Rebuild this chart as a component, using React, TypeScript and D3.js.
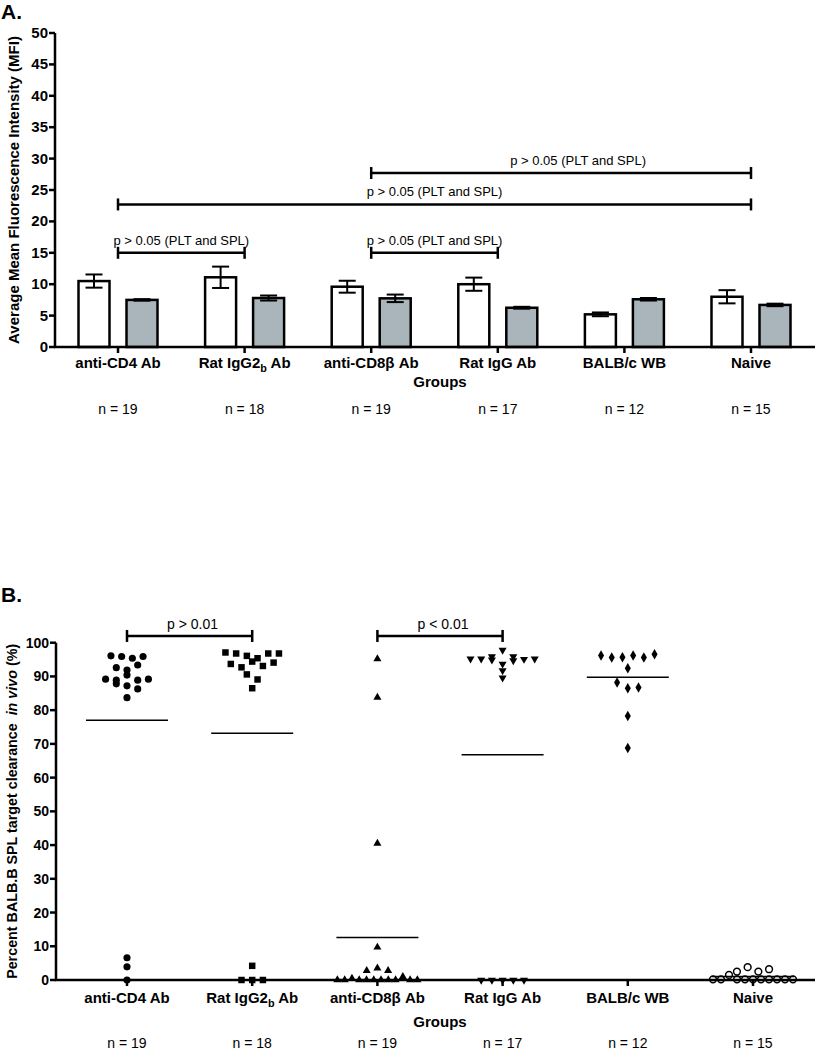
import React, { useRef, useEffect } from "react";
import * as d3 from "d3";

// groups shared by both panels
const groups = ["anti-CD4 Ab", "Rat IgG2b Ab", "anti-CD8b Ab", "Rat IgG Ab", "BALB/c WB", "Naive"];
const labelMain = ["anti-CD4 Ab", "Rat IgG2", "anti-CD8\u03b2 Ab", "Rat IgG Ab", "BALB/c WB", "Naive"];
const labelSub = ["", "b", "", "", "", ""];
const labelTail = ["", " Ab", "", "", "", ""];
const groupN = [19, 18, 19, 17, 12, 15];

// panel A: MFI means and error (PLT white, SPL grey)
const pltMean = [10.5, 11.1, 9.6, 10.0, 5.2, 8.0];
const pltErr = [1.05, 1.7, 0.95, 1.05, 0.3, 1.05];
const splMean = [7.5, 7.8, 7.75, 6.25, 7.6, 6.7];
const splErr = [0.12, 0.4, 0.6, 0.15, 0.2, 0.2];
const yTicksA = [0, 5, 10, 15, 20, 25, 30, 35, 40, 45, 50];

// significance brackets for A
const bracketFromA = [0, 2, 0, 2];
const bracketToA = [1, 3, 5, 5];
const bracketValA = [15, 15, 22.7, 27.7];
const bracketTextA = ["p > 0.05 (PLT and SPL)", "p > 0.05 (PLT and SPL)", "p > 0.05 (PLT and SPL)", "p > 0.05 (PLT and SPL)"];

// panel B: percent clearance per animal
const cd4Vals = [96.1, 95.9, 95.4, 95.9, 92.6, 91.9, 93.4, 89.2, 88.9, 90.4, 88.9, 89.2, 87.8, 87.2, 86.3, 83.7, 6.6, 3.9, 0];
const igg2bVals = [97.1, 96.8, 96.1, 93.7, 92.7, 94.4, 95.4, 93.1, 96.8, 94.1, 96.8, 90.6, 89.1, 86.5, 4.2, 0, 0, 0];
const cd8Vals = [95.2, 83.8, 40.5, 9.7, 2.8, 3.5, 2.8, 0, 0, 0.5, 0, 0, 0, 0, 0, 0, 1.0, 0, 0];
const iggVals = [95.2, 95.2, 94.9, 91.7, 95.9, 97.8, 93.7, 89.6, 95.9, 94.7, 95.1, 95.2, 0, 0, 0, 0, 0];
const balbVals = [96.2, 95.6, 88.2, 95.7, 92.4, 86.5, 78.3, 68.8, 96.2, 95.6, 86.7, 96.6];
const naiveVals = [0.2, 2.5, 0.2, 1.5, 0.2, 0.2, 3.8, 0.2, 0.2, 0.2, 0.2, 2.5, 0.2, 3.2, 0.2];
const yTicksB = [0, 10, 20, 30, 40, 50, 60, 70, 80, 90, 100];

const bracketFromB = [0, 2];
const bracketToB = [1, 3];
const bracketValB = [102, 102];
const bracketTextB = ["p > 0.01", "p < 0.01"];

const FONT = "'Liberation Sans', Arial, sans-serif";

// row based column-scatter layout (values close in y share a row, spread sideways)
function swarm(values, y, step, rowPx, maxHalf) {
  const idx = values.map((v, i) => i).sort((a, b) => values[b] - values[a]);
  const rows = [];
  let cur = null;
  idx.forEach((i) => {
    if (!cur || Math.abs(y(values[i]) - y(values[cur[0]])) > rowPx) {
      cur = [i];
      rows.push(cur);
    } else cur.push(i);
  });
  const off = new Array(values.length).fill(0);
  rows.forEach((r) => {
    r.sort((a, b) => a - b);
    const k = r.length;
    const s = k > 1 ? Math.min(step, (2 * maxHalf) / (k - 1)) : 0;
    r.forEach((i, j) => (off[i] = (j - (k - 1) / 2) * s));
  });
  return off;
}

function groupLabel(g, x, y, i, size) {
  const t = g
    .append("text")
    .attr("x", x)
    .attr("y", y)
    .attr("text-anchor", "middle")
    .attr("font-size", size)
    .attr("font-weight", "bold")
    .style("white-space", "pre");
  t.append("tspan").text(labelMain[i]);
  if (labelSub[i]) {
    t.append("tspan").attr("font-size", size * 0.72).attr("dy", 4).text(labelSub[i]);
    t.append("tspan").attr("dy", -4).text(labelTail[i]);
  }
}

const App = () => {
  const ref = useRef(null);

  useEffect(() => {
    if (!ref.current) return;
    const svg = d3.select(ref.current);
    svg.selectAll("*").remove();
    svg.attr("font-family", FONT);

    /* ---------- panel A ---------- */
    const a = svg.append("g");
    const xA = d3.scalePoint().domain(groups).range([118, 751]);
    const yA = d3.scaleLinear().domain([0, 50]).range([347, 33]);

    a.append("text").attr("x", 1).attr("y", 19).attr("font-size", 21).attr("font-weight", "bold").text("A.");

    // y axis
    a.append("line").attr("x1", 55).attr("x2", 55).attr("y1", yA(50)).attr("y2", yA(0)).attr("stroke", "black").attr("stroke-width", 2.5);
    yTicksA.forEach((t) => {
      a.append("line").attr("x1", 49).attr("x2", 55).attr("y1", yA(t)).attr("y2", yA(t)).attr("stroke", "black").attr("stroke-width", 2.5);
      a.append("text").attr("x", 48).attr("y", yA(t) + 5).attr("text-anchor", "end").attr("font-size", 15).attr("font-weight", "bold").text(t);
    });
    a.append("text")
      .attr("transform", `translate(19,${(yA(0) + yA(50)) / 2}) rotate(-90)`)
      .attr("text-anchor", "middle")
      .attr("font-size", 15)
      .attr("font-weight", "bold")
      .text("Average Mean Fluorescence Intensity (MFI)");

    // bars
    const barW = 31;
    const barOff = 24;
    const drawBar = (cx, v, e, fill) => {
      a.append("rect")
        .attr("x", cx - barW / 2)
        .attr("y", yA(v))
        .attr("width", barW)
        .attr("height", yA(0) - yA(v))
        .attr("fill", fill)
        .attr("stroke", "black")
        .attr("stroke-width", 2.5);
      a.append("line").attr("x1", cx).attr("x2", cx).attr("y1", yA(v - e)).attr("y2", yA(v + e)).attr("stroke", "black").attr("stroke-width", 2);
      [v - e, v + e].forEach((yy) =>
        a.append("line").attr("x1", cx - 8.5).attr("x2", cx + 8.5).attr("y1", yA(yy)).attr("y2", yA(yy)).attr("stroke", "black").attr("stroke-width", 2)
      );
    };
    groups.forEach((g, i) => {
      drawBar(xA(g) - barOff, pltMean[i], pltErr[i], "white");
      drawBar(xA(g) + barOff, splMean[i], splErr[i], "#a9b5bb");
    });

    // x axis
    a.append("line").attr("x1", 54).attr("x2", 815).attr("y1", yA(0)).attr("y2", yA(0)).attr("stroke", "black").attr("stroke-width", 2.5);
    groups.forEach((g, i) => {
      a.append("line").attr("x1", xA(g)).attr("x2", xA(g)).attr("y1", yA(0)).attr("y2", yA(0) + 6).attr("stroke", "black").attr("stroke-width", 2.5);
      groupLabel(a, xA(g), 368, i, 15);
      a.append("text").attr("x", xA(g)).attr("y", 414).attr("text-anchor", "middle").attr("font-size", 14).text(`n = ${groupN[i]}`);
    });
    a.append("text").attr("x", 440).attr("y", 387).attr("text-anchor", "middle").attr("font-size", 15).attr("font-weight", "bold").text("Groups");

    // brackets
    bracketValA.forEach((v, k) => {
      const x1 = xA(groups[bracketFromA[k]]);
      const x2 = xA(groups[bracketToA[k]]);
      const y = yA(v);
      a.append("line").attr("x1", x1).attr("x2", x2).attr("y1", y).attr("y2", y).attr("stroke", "black").attr("stroke-width", 2.5);
      [x1, x2].forEach((x) => a.append("line").attr("x1", x).attr("x2", x).attr("y1", y - 6).attr("y2", y + 6).attr("stroke", "black").attr("stroke-width", 2.5));
      const dx = k === 3 ? 17 : 0;
      a.append("text").attr("x", (x1 + x2) / 2 + dx).attr("y", y - 8).attr("text-anchor", "middle").attr("font-size", 13).text(bracketTextA[k]);
    });

    /* ---------- panel B ---------- */
    const b = svg.append("g");
    const xB = d3.scalePoint().domain(groups).range([127, 753]);
    const yB = d3.scaleLinear().domain([0, 100]).range([980, 642.7]);

    b.append("text").attr("x", 1).attr("y", 602).attr("font-size", 21).attr("font-weight", "bold").text("B.");

    b.append("line").attr("x1", 56).attr("x2", 56).attr("y1", yB(100)).attr("y2", yB(0)).attr("stroke", "black").attr("stroke-width", 2.5);
    yTicksB.forEach((t) => {
      b.append("line").attr("x1", 50).attr("x2", 56).attr("y1", yB(t)).attr("y2", yB(t)).attr("stroke", "black").attr("stroke-width", 2.5);
      b.append("text").attr("x", 49).attr("y", yB(t) + 5).attr("text-anchor", "end").attr("font-size", 14).attr("font-weight", "bold").text(t);
    });
    const yt = b
      .append("text")
      .attr("transform", `translate(17,${(yB(0) + yB(100)) / 2}) rotate(-90)`)
      .attr("text-anchor", "middle")
      .attr("font-size", 14.3)
      .attr("font-weight", "bold")
      .style("white-space", "pre");
    yt.append("tspan").text("Percent BALB.B SPL target clearance  ");
    yt.append("tspan").attr("font-style", "italic").text("in vivo");
    yt.append("tspan").text(" (%)");

    b.append("line").attr("x1", 55).attr("x2", 815).attr("y1", yB(0)).attr("y2", yB(0)).attr("stroke", "black").attr("stroke-width", 2.5);

    const series = [cd4Vals, igg2bVals, cd8Vals, iggVals, balbVals, naiveVals];
    const symbols = [d3.symbolCircle, d3.symbolSquare, d3.symbolTriangle, d3.symbolTriangle, d3.symbolDiamond, d3.symbolCircle];
    const sizes = [40, 42, 28, 28, 32, 36];

    series.forEach((vals, i) => {
      const cx = xB(groups[i]);
      const offs = swarm(vals, yB, 10.7, 7, 40);
      const path = d3.symbol().type(symbols[i]).size(sizes[i])();
      b.append("g")
        .selectAll("path")
        .data(vals)
        .join("path")
        .attr("d", path)
        .attr("transform", (d, j) => `translate(${cx + offs[j]},${yB(d)})${i === 3 ? " rotate(180)" : ""}`)
        .attr("fill", i === 5 ? "white" : "black")
        .attr("fill-opacity", i === 5 ? 0 : 1)
        .attr("stroke", "black")
        .attr("stroke-width", i === 5 ? 1.5 : 0);
      // mean line
      const m = d3.mean(vals);
      b.append("line").attr("x1", cx - 41).attr("x2", cx + 41).attr("y1", yB(m)).attr("y2", yB(m)).attr("stroke", "black").attr("stroke-width", 1.5);
    });

    groups.forEach((g, i) => {
      b.append("line").attr("x1", xB(g)).attr("x2", xB(g)).attr("y1", yB(0)).attr("y2", yB(0) + 6).attr("stroke", "black").attr("stroke-width", 2.5);
      groupLabel(b, xB(g), 1003, i, 15);
      b.append("text").attr("x", xB(g)).attr("y", 1048).attr("text-anchor", "middle").attr("font-size", 14).text(`n = ${groupN[i]}`);
    });
    b.append("text").attr("x", 440).attr("y", 1027).attr("text-anchor", "middle").attr("font-size", 15).attr("font-weight", "bold").text("Groups");

    bracketValB.forEach((v, k) => {
      const x1 = xB(groups[bracketFromB[k]]);
      const x2 = xB(groups[bracketToB[k]]);
      const y = yB(v);
      b.append("line").attr("x1", x1).attr("x2", x2).attr("y1", y).attr("y2", y).attr("stroke", "black").attr("stroke-width", 2.5);
      [x1, x2].forEach((x) => b.append("line").attr("x1", x).attr("x2", x).attr("y1", y - 6).attr("y2", y + 6).attr("stroke", "black").attr("stroke-width", 2.5));
      b.append("text").attr("x", (x1 + x2) / 2 + 3).attr("y", y - 7).attr("text-anchor", "middle").attr("font-size", 14).text(bracketTextB[k]);
    });
  }, []);

  return (
    <svg
      ref={ref}
      width={817}
      height={1050}
      style={{ position: "absolute", left: 0, top: 0, background: "white" }}
    />
  );
};

export default App;
